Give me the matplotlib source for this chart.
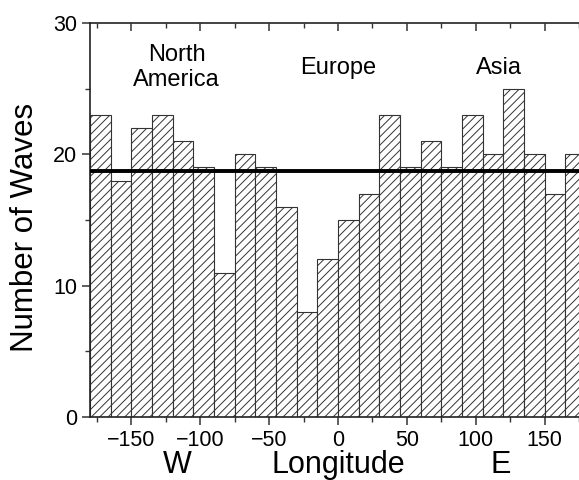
import numpy as np
import matplotlib
matplotlib.use("Agg")
import matplotlib.pyplot as plt
from matplotlib.ticker import MultipleLocator

plt.rcParams['font.family'] = ['Liberation Sans', 'DejaVu Sans']
plt.rcParams['hatch.color'] = '#555555'
plt.rcParams['hatch.linewidth'] = 0.7

# longitude bins (left edges, 15 deg wide) and wave counts
bin_left = [-180, -165, -150, -135, -120, -105, -90, -75, -60, -45, -30, -15,
            0, 15, 30, 45, 60, 75, 90, 105, 120, 135, 150, 165]
counts = [23, 18, 22, 23, 21, 19, 11, 20, 19, 16, 8, 12,
          15, 17, 23, 19, 21, 19, 23, 20, 25, 20, 17, 20]
bin_width = 15
mean_level = 18.7

regions = ["North\nAmerica", "Europe", "Asia"]
region_x = [-117, 0, 117]
region_y = 26.6

xticks = [-150, -100, -50, 0, 50, 100, 150]
yticks = [0, 10, 20, 30]

fig = plt.figure(figsize=(5.79, 4.8), dpi=100)
# axes run past the right edge of the picture, as in the original crop
ax = fig.add_axes([90/579, 63/480, 496/579, 394/480])

ax.bar(bin_left, counts, width=bin_width, align='edge', facecolor='white',
       edgecolor='#333333', linewidth=0.8, hatch='////')
ax.axhline(mean_level, color='black', lw=2.8, zorder=3)

for name, xx in zip(regions, region_x):
    ax.text(xx, region_y, name, ha='center', va='center', fontsize=17,
            linespacing=1.15)

ax.set_xlim(-180, 180)
ax.set_ylim(0, 30)
ax.set_xticks(xticks)
ax.set_yticks(yticks)
ax.xaxis.set_minor_locator(MultipleLocator(25))
ax.yaxis.set_minor_locator(MultipleLocator(5))
ax.tick_params(axis='both', which='major', labelsize=15.5, length=6, width=1.1,
               color='#333333', pad=3, direction='out')
ax.tick_params(axis='both', which='minor', length=3.5, width=1.0,
               color='#333333', direction='out')

# top axis: inward ticks, no labels
top = ax.twiny()
top.set_xlim(ax.get_xlim())
top.set_xticks(xticks)
top.xaxis.set_minor_locator(MultipleLocator(25))
top.tick_params(axis='x', which='major', direction='in', length=6, width=1.1,
                color='#333333', labeltop=False)
top.tick_params(axis='x', which='minor', direction='in', length=3.5, width=1.0,
                color='#333333')
for s in top.spines.values():
    s.set_visible(False)

for s in ax.spines.values():
    s.set_linewidth(1.2)
    s.set_color('#222222')

ax.set_ylabel("Number of Waves", fontsize=22.5)
ax.yaxis.label.set_va('center')
ax.yaxis.set_label_coords(-0.131, 0.48)

lab_y = -0.143
ax.set_xlabel("Longitude", fontsize=22)
ax.xaxis.label.set_va('baseline')
ax.xaxis.set_label_coords(0.5, lab_y)
ax.text(-117, lab_y, "W", transform=ax.get_xaxis_transform(), fontsize=22,
        ha='center', va='baseline')
ax.text(118, lab_y, "E", transform=ax.get_xaxis_transform(), fontsize=22,
        ha='center', va='baseline')

fig.savefig("out.png", dpi=100)
